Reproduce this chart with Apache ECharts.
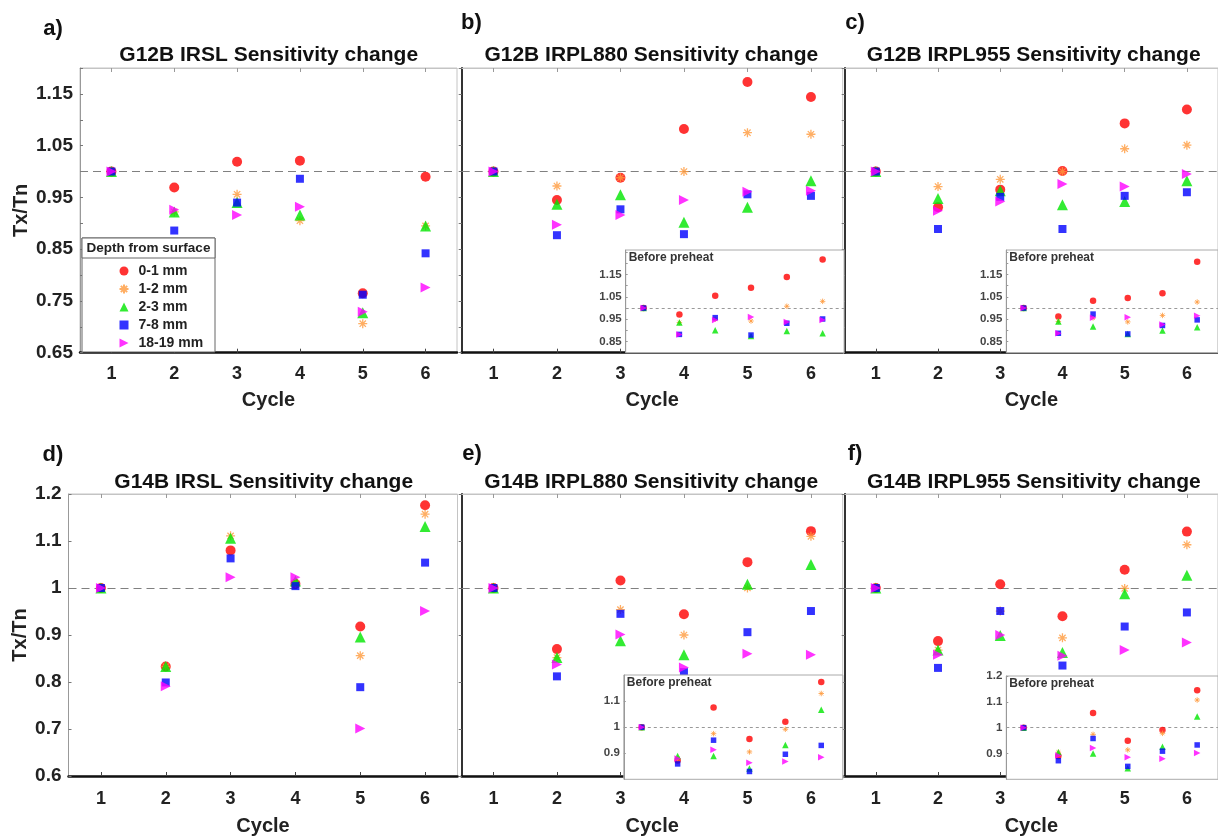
<!DOCTYPE html>
<html><head><meta charset="utf-8">
<script src="https://cdn.jsdelivr.net/npm/echarts@6/dist/echarts.min.js"></script>
<style>html,body{margin:0;padding:0;background:#fff}#c{width:1218px;height:837px}</style>
</head><body><div id="c"></div>
<script>
// ---------------- DATA ----------------
const cycles = [1, 2, 3, 4, 5, 6];
const depthNames = ['0-1 mm', '1-2 mm', '2-3 mm', '7-8 mm', '18-19 mm'];
const panelTitles = [
  'G12B IRSL Sensitivity change', 'G12B IRPL880 Sensitivity change', 'G12B IRPL955 Sensitivity change',
  'G14B IRSL Sensitivity change', 'G14B IRPL880 Sensitivity change', 'G14B IRPL955 Sensitivity change'
];
const panelLabels = ['a)', 'b)', 'c)', 'd)', 'e)', 'f)'];
const insetTitle = 'Before preheat';
const yTicksTop = [0.65, 0.75, 0.85, 0.95, 1.05, 1.15];
const yTicksInsetTop = [0.85, 0.95, 1.05, 1.15];

// a) G12B IRSL
const a_d01   = [1.000, 0.969, 1.019, 1.021, 0.765, 0.990];
const a_d12   = [1.000, 0.922, 0.956, 0.905, 0.706, 0.895];
const a_d23   = [1.000, 0.922, 0.940, 0.916, 0.727, 0.895];
const a_d78   = [1.000, 0.886, 0.940, 0.986, 0.762, 0.842];
const a_d1819 = [1.000, 0.926, 0.916, 0.932, 0.729, 0.776];
// b) G12B IRPL880
const b_d01   = [1.000, 0.945, 0.988, 1.082, 1.173, 1.144];
const b_d12   = [1.000, 0.972, 0.988, 1.000, 1.075, 1.072];
const b_d23   = [1.000, 0.937, 0.955, 0.902, 0.931, 0.982];
const b_d78   = [1.000, 0.877, 0.927, 0.879, 0.956, 0.953];
const b_d1819 = [1.000, 0.897, 0.916, 0.945, 0.961, 0.963];
// b) inset, before preheat
const bi_d01   = [1.000, 0.971, 1.055, 1.091, 1.139, 1.218];
const bi_d12   = [1.000, 0.935, 0.950, 0.942, 1.008, 1.030];
const bi_d23   = [1.000, 0.935, 0.900, 0.875, 0.897, 0.887];
const bi_d78   = [1.000, 0.882, 0.957, 0.879, 0.932, 0.951];
const bi_d1819 = [1.000, 0.882, 0.947, 0.960, 0.938, 0.946];
// c) G12B IRPL955
const c_d01   = [1.000, 0.931, 0.965, 1.001, 1.093, 1.120];
const c_d12   = [1.000, 0.971, 0.985, 1.000, 1.044, 1.051];
const c_d23   = [1.000, 0.948, 0.963, 0.936, 0.942, 0.982];
const c_d78   = [1.000, 0.889, 0.951, 0.889, 0.953, 0.960];
const c_d1819 = [1.000, 0.924, 0.942, 0.976, 0.971, 0.995];
// c) inset
const ci_d01   = [1.000, 0.962, 1.033, 1.045, 1.066, 1.207];
const ci_d12   = [1.000, 0.940, 0.956, 0.938, 0.967, 1.027];
const ci_d23   = [1.000, 0.940, 0.917, 0.884, 0.899, 0.914];
const ci_d78   = [1.000, 0.887, 0.973, 0.884, 0.922, 0.947];
const ci_d1819 = [1.000, 0.887, 0.956, 0.959, 0.926, 0.965];
// d) G14B IRSL
const d_d01   = [1.000, 0.833, 1.080, 1.009, 0.918, 1.176];
const d_d12   = [1.000, 0.833, 1.111, 1.010, 0.856, 1.157];
const d_d23   = [1.000, 0.833, 1.106, 1.015, 0.896, 1.131];
const d_d78   = [1.000, 0.799, 1.063, 1.004, 0.789, 1.054];
const d_d1819 = [1.000, 0.791, 1.023, 1.023, 0.701, 0.951];
// e) G14B IRPL880
const e_d01   = [1.000, 0.870, 1.016, 0.944, 1.055, 1.121];
const e_d12   = [1.000, 0.852, 0.954, 0.900, 1.000, 1.110];
const e_d23   = [1.000, 0.852, 0.888, 0.858, 1.008, 1.050];
const e_d78   = [1.000, 0.812, 0.945, 0.821, 0.906, 0.951];
const e_d1819 = [1.000, 0.837, 0.901, 0.831, 0.860, 0.858];
// e) inset
const ei_d01   = [1.000, 0.872, 1.075, 0.955, 1.021, 1.173];
const ei_d12   = [1.000, 0.880, 0.975, 0.905, 0.992, 1.129];
const ei_d23   = [1.000, 0.889, 0.889, 0.841, 0.932, 1.067];
const ei_d78   = [1.000, 0.859, 0.950, 0.830, 0.896, 0.930];
const ei_d1819 = [1.000, 0.880, 0.913, 0.863, 0.868, 0.885];
// f) G14B IRPL955
const f_d01   = [1.000, 0.887, 1.008, 0.940, 1.039, 1.120];
const f_d12   = [1.000, 0.868, 0.951, 0.894, 0.999, 1.092];
const f_d23   = [1.000, 0.868, 0.899, 0.863, 0.988, 1.027];
const f_d78   = [1.000, 0.830, 0.951, 0.835, 0.918, 0.948];
const f_d1819 = [1.000, 0.858, 0.900, 0.856, 0.868, 0.884];
// f) inset
const fi_d01   = [1.000, 0.890, 1.057, 0.949, 0.991, 1.145];
const fi_d12   = [1.000, 0.905, 0.974, 0.914, 0.978, 1.107];
const fi_d23   = [1.000, 0.905, 0.900, 0.843, 0.926, 1.043];
const fi_d78   = [1.000, 0.872, 0.958, 0.850, 0.909, 0.933];
const fi_d1819 = [1.000, 0.892, 0.921, 0.885, 0.880, 0.902];

// ---------------- LAYOUT / STYLE ----------------
const FONT = '"Liberation Sans", Arial, Helvetica, sans-serif';
const ASTER = 'path://M5,0L5,10M0,5L10,5M1.5,1.5L8.5,8.5M1.5,8.5L8.5,1.5';
const RIGHT_TRI = 'path://M0,0L10,5L0,10Z';
const marks = [
  { symbol: 'circle', color: '#ff0000', size: 10, isize: 6.5 },
  { symbol: ASTER, color: '#ff9a3c', size: 9, isize: 5.5, stroke: true },
  { symbol: 'triangle', color: '#00e600', size: 11, isize: 6.5 },
  { symbol: 'rect', color: '#0000ff', size: 8, isize: 5.5 },
  { symbol: 'triangle', rotate: -90, color: '#ff00ff', size: 10, isize: 6.5, legendIcon: RIGHT_TRI }
];

const mains = [
  { grid: { left: 80, top: 68, width: 377, height: 284.7 }, ymin: 0.65, ymax: 1.2, yint: 0.05, ticks: yTicksTop, first: true, nameGap: 48.5, row: 0,
    sets: [a_d01, a_d12, a_d23, a_d78, a_d1819], lab: [53, 29], tit: [268.7, 55] },
  { grid: { left: 461.7, top: 68, width: 381, height: 284.7 }, ymin: 0.65, ymax: 1.2, yint: 0.05, ticks: yTicksTop, first: false, row: 0,
    sets: [b_d01, b_d12, b_d23, b_d78, b_d1819], lab: [471.5, 23], tit: [651.3, 55] },
  { grid: { left: 844.7, top: 68, width: 379, height: 284.7 }, ymin: 0.65, ymax: 1.2, yint: 0.05, ticks: yTicksTop, first: false, row: 0,
    sets: [c_d01, c_d12, c_d23, c_d78, c_d1819], lab: [855, 23], tit: [1033.7, 55] },
  { grid: { left: 68.5, top: 494, width: 389, height: 285.3 }, ymin: 0.6, ymax: 1.2, yint: 0.1, ticks: null, first: true, nameGap: 38, row: 1,
    sets: [d_d01, d_d12, d_d23, d_d78, d_d1819], lab: [53, 455], tit: [263.7, 482] },
  { grid: { left: 461.7, top: 494, width: 381, height: 285.3 }, ymin: 0.6, ymax: 1.2, yint: 0.1, ticks: null, first: false, row: 1,
    sets: [e_d01, e_d12, e_d23, e_d78, e_d1819], lab: [472, 454], tit: [651.2, 482] },
  { grid: { left: 844.7, top: 494, width: 379, height: 285.3 }, ymin: 0.6, ymax: 1.2, yint: 0.1, ticks: null, first: false, row: 1,
    sets: [f_d01, f_d12, f_d23, f_d78, f_d1819], lab: [855, 454], tit: [1033.8, 482] }
];
const insets = [
  { grid: { left: 625.7, top: 250, width: 218.4, height: 102.7 }, ymin: 0.8, ymax: 1.26, yint: 0.05, ticks: yTicksInsetTop, showMax: false,
    sets: [bi_d01, bi_d12, bi_d23, bi_d78, bi_d1819] },
  { grid: { left: 1006.3, top: 250, width: 218.4, height: 102.7 }, ymin: 0.8, ymax: 1.26, yint: 0.05, ticks: yTicksInsetTop, showMax: false,
    sets: [ci_d01, ci_d12, ci_d23, ci_d78, ci_d1819] },
  { grid: { left: 623.8, top: 675, width: 219, height: 104.3 }, ymin: 0.8, ymax: 1.2, yint: 0.1, ticks: null, showMax: false,
    sets: [ei_d01, ei_d12, ei_d23, ei_d78, ei_d1819] },
  { grid: { left: 1006.3, top: 676, width: 219, height: 103.3 }, ymin: 0.8, ymax: 1.2, yint: 0.1, ticks: null, showMax: true,
    sets: [fi_d01, fi_d12, fi_d23, fi_d78, fi_d1819] }
];

function near(v, list) { return list.some(t => Math.abs(t - v) < 1e-6); }
function fmtY(ticks) {
  return function (v) {
    if (ticks) return near(v, ticks) ? v.toFixed(2) : '';
    return String(+v.toFixed(1));
  };
}

const grids = [], xAxes = [], yAxes = [], series = [], graphics = [];
function seriesFor(sets, xi, yi, inset) {
  sets.forEach((vals, k) => {
    const m = marks[k];
    const s = {
      name: depthNames[k], type: 'scatter', xAxisIndex: xi, yAxisIndex: yi,
      data: cycles.map((c, i) => [c, vals[i]]),
      symbol: m.symbol, symbolSize: inset ? m.isize : m.size, symbolRotate: m.rotate || 0,
      symbolKeepAspect: true,
      itemStyle: m.stroke ? { color: m.color, borderColor: m.color, borderWidth: inset ? 1 : 1.3 } : { color: m.color },
      z: inset ? 7 : 2, silent: true
    };
    if (k === 0) {
      s.markLine = {
        silent: true, symbol: 'none', label: { show: false },
        lineStyle: inset ? { color: '#999', type: [3, 3], width: 1 } : { color: '#808080', type: [8, 5], width: 1.2 },
        data: [{ yAxis: 1 }], z: inset ? 6 : 1
      };
    }
    series.push(s);
  });
}

mains.forEach((p, i) => {
  const gi = grids.length;
  grids.push(Object.assign({ show: true, borderColor: '#c4c4c4', borderWidth: 1, containLabel: false }, p.grid));
  const xi = xAxes.length;
  xAxes.push({
    gridIndex: gi, type: 'value', position: 'bottom', min: 0.5, max: 6.5, interval: 0.5,
    axisLine: { show: true, onZero: false, lineStyle: { color: '#111', width: 2.5 } },
    axisTick: { show: true, inside: true, length: 4, customValues: cycles, lineStyle: { color: '#444' } },
    axisLabel: { customValues: cycles, formatter: v => (Math.abs(v - Math.round(v)) < 1e-6 ? String(Math.round(v)) : ''),
      fontSize: 18, fontWeight: 'bold', color: '#222', margin: p.row ? 14 : 12, fontFamily: FONT },
    splitLine: { show: false },
    name: 'Cycle', nameLocation: 'middle', nameGap: p.row ? 40 : 38,
    nameTextStyle: { fontSize: 20, fontWeight: 'bold', color: '#222', fontFamily: FONT }
  });
  // top frame axis with inward ticks
  xAxes.push({
    gridIndex: gi, type: 'value', position: 'top', min: 0.5, max: 6.5, interval: 0.5,
    axisLine: { show: true, onZero: false, lineStyle: { color: '#c4c4c4', width: 1 } },
    axisTick: { show: true, inside: true, length: 4, customValues: cycles, lineStyle: { color: '#999' } },
    axisLabel: { show: false }, splitLine: { show: false }
  });
  const yi = yAxes.length;
  yAxes.push({
    gridIndex: gi, type: 'value', min: p.ymin, max: p.ymax, interval: p.yint,
    axisLine: { show: true, onZero: false, lineStyle: { color: p.first ? '#999' : '#333', width: p.first ? 1 : 2 } },
    axisTick: { show: true, inside: p.first, length: 3, lineStyle: { color: '#777' } },
    axisLabel: { show: p.first, formatter: fmtY(p.ticks), fontSize: 19, fontWeight: 'bold', color: '#222', margin: 7, fontFamily: FONT },
    splitLine: { show: false },
    name: p.first ? 'Tx/Tn' : '', nameLocation: 'middle', nameGap: p.nameGap || 40,
    nameTextStyle: { fontSize: 20, fontWeight: 'bold', color: '#222', fontFamily: FONT }
  });
  seriesFor(p.sets, xi, yi, false);
  graphics.push({ type: 'text', x: p.lab[0], y: p.lab[1], z: 20,
    style: { text: panelLabels[i], textAlign: 'center', textVerticalAlign: 'middle', font: 'bold 22px ' + FONT, fill: '#111' } });
  graphics.push({ type: 'text', x: p.tit[0], y: p.tit[1], z: 20,
    style: { text: panelTitles[i], textAlign: 'center', textVerticalAlign: 'middle', font: 'bold 21px ' + FONT, fill: '#111' } });
});

insets.forEach((p) => {
  const gi = grids.length;
  grids.push(Object.assign({ show: true, backgroundColor: '#ffffff', borderColor: '#aaa', borderWidth: 1, z: 5 }, p.grid));
  const xi = xAxes.length;
  xAxes.push({ gridIndex: gi, type: 'value', min: 0.5, max: 6.6, interval: 0.5, z: 6,
    axisLine: { show: false }, axisTick: { show: false }, axisLabel: { show: false }, splitLine: { show: false } });
  const yi = yAxes.length;
  yAxes.push({
    gridIndex: gi, type: 'value', min: p.ymin, max: p.ymax, interval: p.yint, z: 6,
    axisLine: { show: true, onZero: false, lineStyle: { color: '#999', width: 1 } },
    axisTick: { show: true, inside: true, length: 2, lineStyle: { color: '#999' } },
    axisLabel: { formatter: fmtY(p.ticks), showMinLabel: false, showMaxLabel: p.showMax,
      fontSize: 11.5, fontWeight: 'bold', color: '#444', margin: 4, fontFamily: FONT },
    splitLine: { show: false }
  });
  seriesFor(p.sets, xi, yi, true);
  graphics.push({ type: 'text', x: p.grid.left + 3, y: p.grid.top + 8, z: 30,
    style: { text: insetTitle, textAlign: 'left', textVerticalAlign: 'middle', font: 'bold 12px ' + FONT, fill: '#333' } });
});

// legend frame (panel a)
graphics.push({ type: 'rect', shape: { x: 82, y: 238, width: 133, height: 114 }, z: 3,
  style: { fill: '#fff', stroke: '#666', lineWidth: 1 } });
graphics.push({ type: 'rect', shape: { x: 82, y: 238, width: 133, height: 20 }, z: 3,
  style: { fill: '#fff', stroke: '#666', lineWidth: 1 } });
graphics.push({ type: 'text', x: 148.5, y: 248.5, z: 30,
  style: { text: 'Depth from surface', textAlign: 'center', textVerticalAlign: 'middle', font: 'bold 13.5px ' + FONT, fill: '#222' } });

const legendData = depthNames.map((n, k) => marks[k].legendIcon ? { name: n, icon: marks[k].legendIcon } : { name: n });

const chart = echarts.init(document.getElementById('c'), null, { renderer: 'canvas' });
chart.setOption({
  backgroundColor: '#ffffff',
  animation: false,
  textStyle: { fontFamily: FONT },
  grid: grids, xAxis: xAxes, yAxis: yAxes, series: series,
  legend: {
    data: legendData, orient: 'vertical', left: 118.5, top: 264, z: 10, padding: 0,
    itemWidth: 9, itemHeight: 9, itemGap: 4, selectedMode: false, symbolRotate: 0,
    textStyle: { fontSize: 14, fontWeight: 'bold', color: '#222', lineHeight: 14, padding: [0, 0, 0, 5], fontFamily: FONT }
  },
  graphic: { elements: graphics }
});
</script></body></html>
